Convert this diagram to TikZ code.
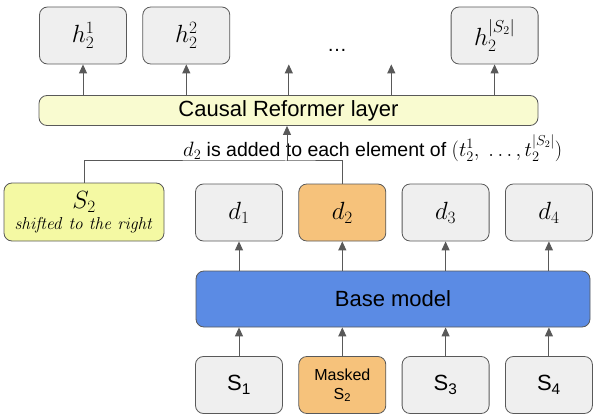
\documentclass[tikz,border=0pt]{standalone}
\usepackage[no-math]{fontspec}
\setmainfont{Liberation Sans}
\usepackage{amsmath}
\usetikzlibrary{arrows.meta,positioning}

\definecolor{boxgray}{HTML}{EFEFEF}
\definecolor{edgegray}{HTML}{595959}
\definecolor{maskorange}{HTML}{F6C27B}
\definecolor{baseblue}{HTML}{5B8BE4}
\definecolor{reformyellow}{HTML}{F9FBD0}
\definecolor{shiftyellow}{HTML}{F4F9A3}

\begin{document}
\begin{tikzpicture}[x=1pt,y=-1pt,>={Triangle[width=8pt,length=9pt]},
    node distance=15.5pt,
    tok/.style={draw=edgegray,line width=0.8pt,rounded corners=8pt,fill=boxgray,
      minimum width=87pt,minimum height=57pt,inner sep=0pt,font=\fontsize{22}{26}\selectfont},
    mtok/.style={tok,font=\fontsize{25}{28}\selectfont},
    masked/.style={tok,fill=maskorange},
    wide/.style={draw=edgegray,line width=0.8pt,rounded corners=8pt,inner sep=0pt},
    conn/.style={draw=edgegray,line width=1pt}]
  \useasboundingbox (0,0) rectangle (598,420);

  % outputs of the reformer
  \node[mtok] (h1) at (83,35.5) {$h_2^1$};
  \node[mtok] (h2) [right=of h1] {$h_2^2$};
  \node[mtok] (hS) [right=220.5pt of h2] {$h_2^{|S_2|}$};
  \coordinate[right=102.5pt of h2.south] (t3);
  \coordinate[right=102.5pt of t3] (t4);
  \node (dots) at (337,50) {\fontsize{20}{22}\selectfont …};

  \node[wide,fill=reformyellow,minimum width=499pt,minimum height=30pt,
    font=\fontsize{22}{26}\selectfont] (reform) at (288.5,110.5) {Causal Reformer layer};

  % document vectors
  \node[mtok] (d1) at (239,212.5) {$d_1$};
  \node[mtok,fill=maskorange] (d2) [right=of d1] {$d_2$};
  \node[mtok] (d3) [right=of d2] {$d_3$};
  \node[mtok] (d4) [right=of d3] {$d_4$};

  \node[wide,fill=shiftyellow,minimum width=160pt,minimum height=58pt,align=center,
    font=\fontsize{23}{22}\selectfont] (shift) at (84,212)
    {$S_2$\\[-1pt]{\fontsize{18.5}{20}\selectfont$\mathit{shifted\ to\ the\ right}$}};

  \node[wide,fill=baseblue,minimum width=394pt,minimum height=56pt,
    font=\fontsize{22}{26}\selectfont] (base) at (393,299) {Base model};

  % input segments
  \node[tok] (s1) at (239,385) {S\textsubscript{1}};
  \node[masked,align=center,font=\fontsize{16}{19}\selectfont] (s2) [right=of s1] {Masked\\S\textsubscript{2}};
  \node[tok] (s3) [right=of s2] {S\textsubscript{3}};
  \node[tok] (s4) [right=of s3] {S\textsubscript{4}};

  \coordinate (join) at (287,161);
  \node[anchor=west,inner sep=0pt,font=\fontsize{19.5}{21}\selectfont] (note) at (183,148)
    {$d_2$ is added to each element of $(t_2^1,\ \ldots,t_2^{|S_2|})$};

  \draw[conn] (shift.north) |- (join) -| (d2.north);
  \draw[conn,->] (join) -- (join |- reform.south);

  \foreach \n in {h1,h2,hS}
    \draw[conn,->] (\n |- reform.north) -- (\n.south);
  \foreach \n in {t3,t4}
    \draw[conn,->] (\n |- reform.north) -- (\n);

  \foreach \n in {1,...,4} {
    \draw[conn,->] (d\n |- base.north) -- (d\n.south);
    \draw[conn,->] (s\n.north) -- (s\n |- base.south);
  }
\end{tikzpicture}
\end{document}
